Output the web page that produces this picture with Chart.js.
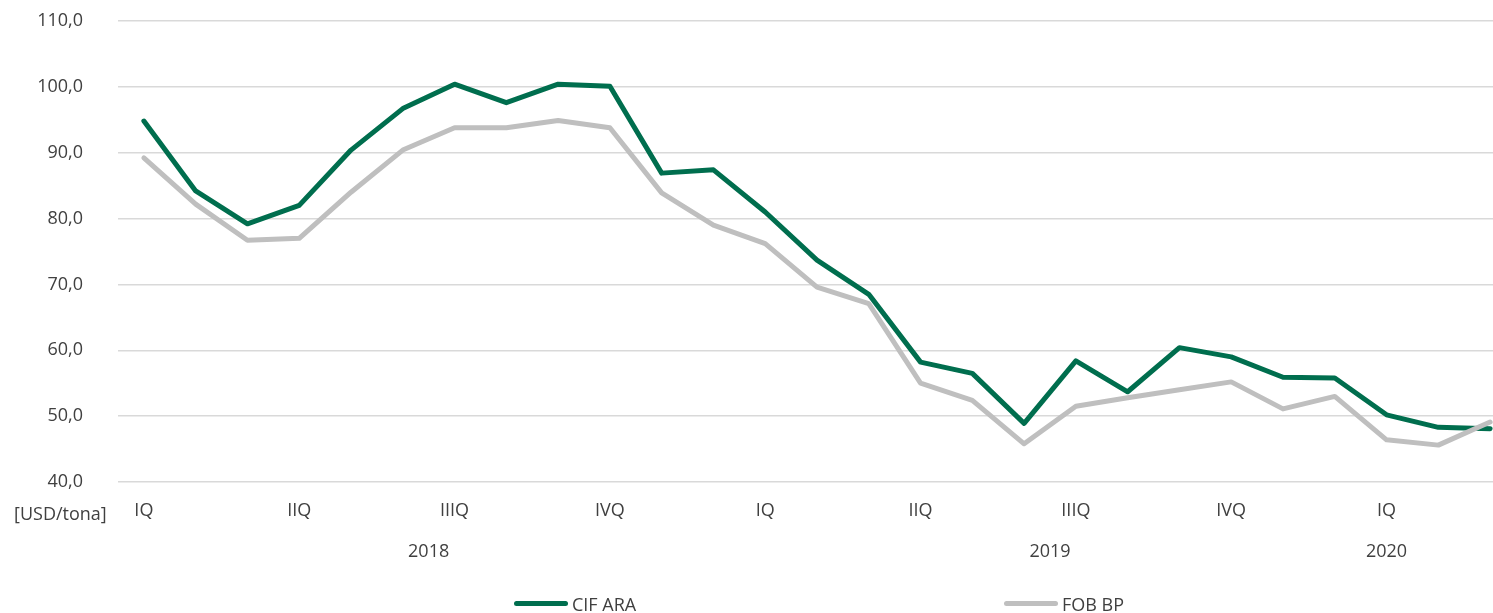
<!DOCTYPE html>
<html>
<head>
<meta charset="utf-8">
<script src="https://cdn.jsdelivr.net/npm/chart.js@4/dist/chart.umd.min.js"></script>
<style>
  html, body { margin: 0; padding: 0; background: #fff; overflow: hidden; }
  #wrap { position: relative; width: 1493px; height: 613px; overflow: hidden; }
  canvas { position: absolute; left: 0; top: 0; }
  .lg { position: absolute; font-family: "Open Sans", sans-serif; font-size: 18px; color: #404040; white-space: nowrap; line-height: 20px; }
  .sw { position: absolute; height: 5px; border-radius: 3px; }
</style>
</head>
<body>
<div id="wrap">
  <canvas id="c" width="1520" height="613"></canvas>
  <div class="sw" style="left:514px;top:601px;width:54px;background:#006E4E;"></div>
  <div class="lg" style="left:572px;top:594px;">CIF ARA</div>
  <div class="sw" style="left:1004px;top:601px;width:54px;background:#BFBFBF;"></div>
  <div class="lg" style="left:1062px;top:594px;">FOB BP</div>
</div>
<script>
// Months Jan 2018 .. Mar 2020
const months = ['2018-01','2018-02','2018-03','2018-04','2018-05','2018-06','2018-07','2018-08','2018-09','2018-10','2018-11','2018-12',
                '2019-01','2019-02','2019-03','2019-04','2019-05','2019-06','2019-07','2019-08','2019-09','2019-10','2019-11','2019-12',
                '2020-01','2020-02','2020-03'];
const quarterLabels = ['IQ','','','IIQ','','','IIIQ','','','IVQ','','',
                       'IQ','','','IIQ','','','IIIQ','','','IVQ','','',
                       'IQ','',''];
const years = ['2018','2019','2020'];
const yearFirst = [0, 12, 24];
const yearLast = [11, 23, 24];
const cifARA = [94.8, 84.2, 79.2, 82.0, 90.4, 96.7, 100.4, 97.6, 100.4, 100.1, 86.9, 87.4,
                81.0, 73.7, 68.5, 58.2, 56.5, 48.9, 58.4, 53.7, 60.4, 59.0, 55.9, 55.8,
                50.2, 48.3, 48.1];
const fobBP =  [89.2, 82.2, 76.7, 77.0, 84.0, 90.4, 93.8, 93.8, 94.9, 93.8, 83.9, 79.0,
                76.2, 69.6, 67.1, 55.0, 52.4, 45.8, 51.5, 52.8, 54.0, 55.2, 51.1, 53.0,
                46.4, 45.6, 49.1];
const unitLabel = '[USD/tona]';

const FONT = '"Open Sans", sans-serif';
const TXT = '#404040';

const extraText = {
  id: 'extraText',
  afterDraw(chart) {
    const ctx = chart.ctx;
    const xs = chart.scales.x;
    ctx.save();
    ctx.font = '18px ' + FONT;
    ctx.fillStyle = TXT;
    ctx.textBaseline = 'middle';
    ctx.textAlign = 'center';
    years.forEach((y, i) => {
      const x = (xs.getPixelForValue(yearFirst[i]) + xs.getPixelForValue(yearLast[i])) / 2;
      ctx.fillText(y, x, 552);
    });
    ctx.textAlign = 'left';
    ctx.fillText(unitLabel, 14, 515);
    ctx.restore();
  }
};

new Chart(document.getElementById('c'), {
  type: 'line',
  data: {
    labels: months,
    datasets: [
      { label: 'CIF ARA', data: cifARA, borderColor: '#006E4E', backgroundColor: '#006E4E',
        borderWidth: 5, pointRadius: 0, tension: 0, borderJoinStyle: 'round', borderCapStyle: 'round', order: 1 },
      { label: 'FOB BP', data: fobBP, borderColor: '#BFBFBF', backgroundColor: '#BFBFBF',
        borderWidth: 5, pointRadius: 0, tension: 0, borderJoinStyle: 'round', borderCapStyle: 'round', order: 0 }
    ]
  },
  options: {
    responsive: false,
    animation: false,
    devicePixelRatio: 1,
    layout: { padding: { top: 21, right: 4, bottom: 0, left: 0 } },
    plugins: { legend: { display: false }, tooltip: { enabled: false } },
    scales: {
      x: {
        type: 'category',
        offset: true,
        grid: { display: false, drawTicks: false },
        border: { display: false },
        ticks: {
          autoSkip: false, maxRotation: 0, padding: 18,
          color: TXT, font: { family: FONT, size: 18 },
          callback: (v, i) => quarterLabels[i]
        },
        afterFit: (s) => { s.height = 131; }
      },
      y: {
        min: 40, max: 110,
        grid: { color: '#D9D9D9', lineWidth: 1.5, drawTicks: true, tickLength: 35, tickColor: 'rgba(0,0,0,0)' },
        border: { display: false },
        ticks: {
          stepSize: 10, padding: 0, color: TXT, font: { family: FONT, size: 18 },
          callback: (v) => v.toFixed(1).replace('.', ',')
        },
        afterFit: (s) => { s.width = 118; }
      }
    }
  },
  plugins: [extraText]
});
</script>
</body>
</html>
